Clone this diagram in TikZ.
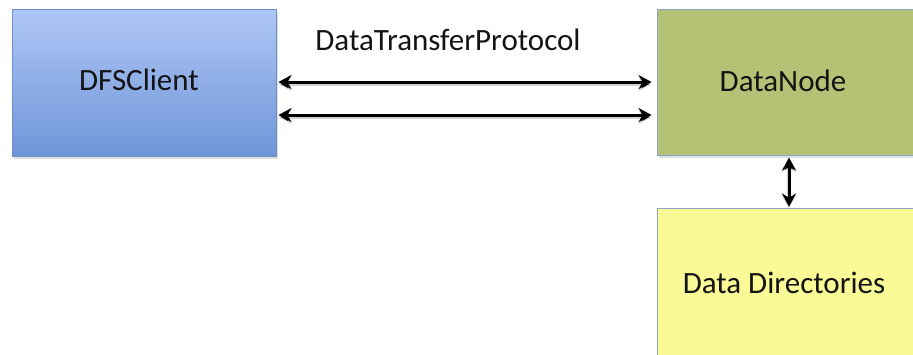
\documentclass[tikz,border=0pt]{standalone}
\usepackage{fontspec}
\setmainfont{Carlito}
\usetikzlibrary{arrows.meta,shadows}
\definecolor{clienttop}{HTML}{AFC7F6}
\definecolor{clientbot}{HTML}{6F95D8}
\definecolor{clientedge}{HTML}{6F8FC8}
\definecolor{nodefill}{HTML}{B3C274}
\definecolor{dirfill}{HTML}{FAFA96}
\definecolor{boxedge}{HTML}{8CA3CC}
\definecolor{inktext}{HTML}{141414}
\tikzset{
  box/.style={rectangle, draw=#1, line width=1pt, inner sep=0pt,
    drop shadow={shadow xshift=2pt, shadow yshift=-3pt, opacity=0.25}},
  link/.style={draw=black, line width=3pt,
    {Stealth[length=13pt,width=14pt]}-{Stealth[length=13pt,width=14pt]},
    preaction={draw=black, draw opacity=0.18, line width=4pt,
      transform canvas={yshift=-2pt}}},
  caption/.style={font=\fontsize{31}{36}\selectfont, text=inktext}
}
\begin{document}
\begin{tikzpicture}[x=1pt,y=-1pt]
  \clip (0,0) rectangle (913,354);
  \fill[white] (0,0) rectangle (913,354);

  % client box with a vertical gradient
  \node[box=clientedge, top color=clienttop, bottom color=clientbot,
        minimum width=264pt, minimum height=147pt] (client) at (144,82.5) {};
  \node[caption] (clientlabel) at (139,80) {DFSClient};

  % data node and its storage
  \node[box=boxedge, fill=nodefill, minimum width=258pt, minimum height=146pt]
        (datanode) at (786,82) {};
  \node[caption] (datanodelabel) at (783,81) {DataNode};

  \node[box=boxedge, fill=dirfill, minimum width=258pt, minimum height=152pt]
        (dirs) at (786,284) {};
  \node[caption] (dirslabel) at (784,283) {Data Directories};

  % protocol label
  \node[caption] (proto) at (448,40) {DataTransferProtocol};

  % two-way streams between client and data node
  \draw[link, shorten <=2pt, shorten >=5pt]
    ([yshift=0.5pt]client.east) -- ([yshift=0pt]datanode.west);
  \draw[link, shorten <=2pt, shorten >=5pt]
    ([yshift=-32.5pt]client.east) -- ([yshift=-33pt]datanode.west);

  % data node to data directories
  \draw[link, shorten <=2pt, shorten >=1pt]
    ([xshift=3pt]datanode.south) -- ([xshift=3pt]dirs.north);
\end{tikzpicture}
\end{document}
